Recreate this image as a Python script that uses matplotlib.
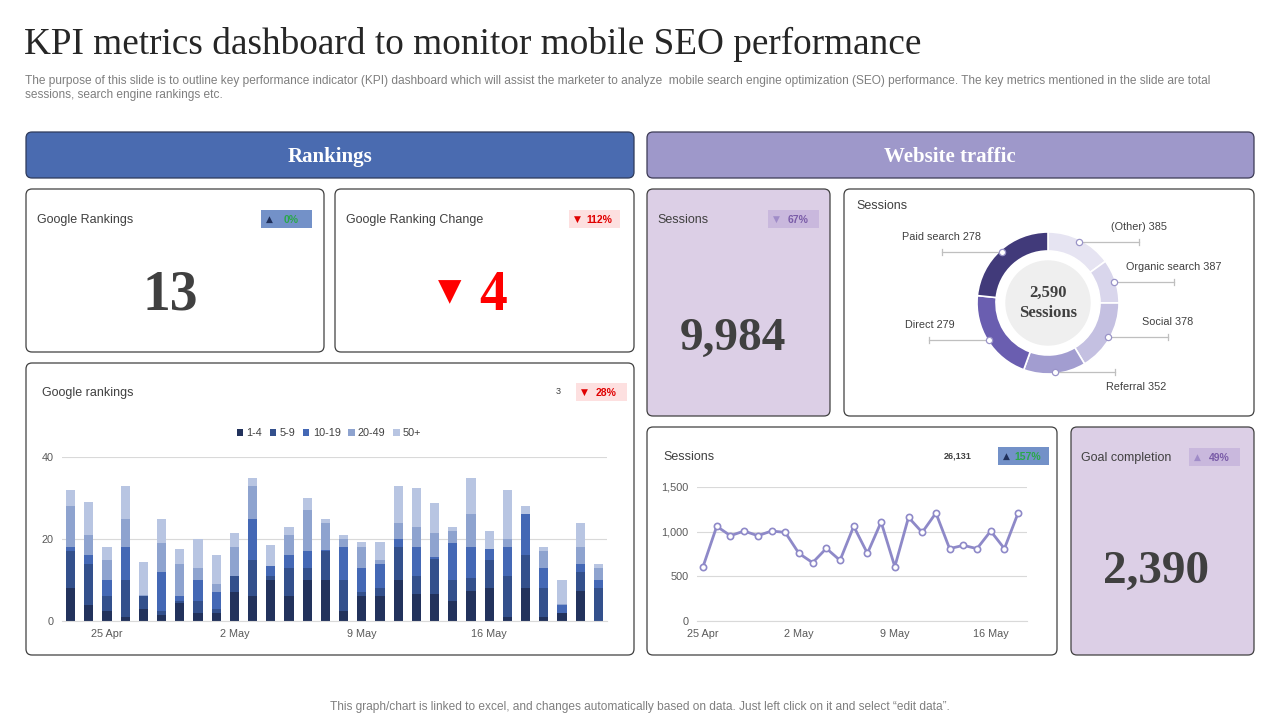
import numpy as np
import pandas as pd
import matplotlib
matplotlib.use("Agg")
import matplotlib.pyplot as plt
from matplotlib.patches import FancyBboxPatch, Rectangle, Circle

W, H = 1280, 720
SERIF = "Liberation Serif"
SANS = "Liberation Sans"
DARK = "#404040"
plt.rcParams["font.family"] = [SANS, "DejaVu Sans"]

# Google rankings per day, split by ranking bucket
rank_days = pd.date_range("2023-04-23", periods=30)
rank_buckets = ["1-4", "5-9", "10-19", "20-49", "50+"]
rank_1_4 = [8, 4, 2.5, 1, 3, 1.5, 4.5, 2, 2, 7, 6, 10, 6, 10, 10, 2.5, 6, 6, 10, 6.5,
            6.5, 5, 7.4, 8, 1, 8, 1, 2, 7.4, 0]
rank_5_9 = [9, 10, 3.5, 9, 3, 1, 0.5, 3, 1, 4, 9, 1, 7, 3, 7, 7.5, 1, 2, 8, 4.5,
            8.7, 5, 3.1, 7, 10, 8, 7, 0, 4.6, 8]
rank_10_19 = [1, 2, 4, 8, 0, 9.5, 1, 5, 4, 0, 10, 2.5, 3, 4, 0.2, 8, 6, 6, 2, 7,
              0.3, 9, 7.5, 2.5, 7, 10, 5, 2, 2, 2]
rank_20_49 = [10, 5, 5, 7, 0.3, 7, 8, 3, 2, 7, 8, 0, 5, 10, 6.8, 2, 5, 1, 4, 5,
              6, 3, 8, 0.1, 2, 0, 4, 0.2, 4, 3]
rank_50p = [4, 8, 3, 8, 8, 6, 3.5, 7, 7, 3.5, 2, 5, 2, 3, 1, 1, 1.3, 4.3, 9, 9.4,
            7.3, 1, 9, 4.4, 12, 2, 1, 5.8, 6, 1]
rank_colors = ["#22325c", "#33508c", "#4468b5", "#8ea3cf", "#b8c5e2"]

# daily sessions
session_days = pd.date_range("2023-04-25", periods=24)
sessions = [608, 1060, 955, 1007, 955, 1007, 992, 757, 653, 813, 679, 1060,
            757, 1108, 608, 1160, 992, 1209, 810, 847, 810, 1007, 810, 1209]

# sessions by source
traffic_sources = ["(Other)", "Organic search", "Social", "Referral", "Direct", "Paid search"]
traffic_sessions = [385, 387, 378, 352, 279, 278]
traffic_arc_share = [54, 36, 59, 51, 76, 84]   # slice sizes as drawn
traffic_colors = ["#e6e4f2", "#d9d6ec", "#c4c0e1", "#a29dd0", "#6a5eb0", "#413a7a"]

fig = plt.figure(figsize=(12.8, 7.2), dpi=100)
bg = fig.add_axes([0, 0, 1, 1])
bg.set_xlim(0, W)
bg.set_ylim(H, 0)
bg.axis("off")


def px_axes(x0, y0, x1, y1):
    return fig.add_axes([x0 / W, 1 - y1 / H, (x1 - x0) / W, (y1 - y0) / H])


def card(x0, y0, x1, y1, fc="white", ec=DARK, lw=0.9):
    bg.add_patch(FancyBboxPatch((x0, y0), x1 - x0, y1 - y0,
                                boxstyle="round,pad=0,rounding_size=6",
                                fc=fc, ec=ec, lw=lw))


def badge(x0, yc, arrow, arrow_c, txt, txt_c, fc, w=51):
    bg.add_patch(Rectangle((x0, yc - 9), w, 18, fc=fc, ec="none"))
    bg.text(x0 + 8, yc, arrow, color=arrow_c, fontsize=6.5, ha="center", va="center",
            family="DejaVu Sans")
    bg.text(x0 + 30, yc + 1, txt, color=txt_c, fontsize=7.5, fontweight="bold",
            ha="center", va="center", family=SANS)


def label(x0, y, txt, **kw):
    bg.text(x0, y + 1, txt, family=SANS, fontsize=9, color=DARK, va="center", **kw)


# title and subtitle
bg.text(24, 44, "KPI metrics dashboard to monitor mobile SEO performance",
        family=SERIF, fontsize=26.8, color="#262626", va="center")
bg.text(25, 81, "The purpose of this slide is to outline key performance indicator (KPI) dashboard "
        "which will assist the marketer to analyze  mobile search engine optimization (SEO) "
        "performance. The key metrics mentioned in the slide are total",
        family=SANS, fontsize=8.6, color="#7f7f7f", va="center")
bg.text(25, 95, "sessions, search engine rankings etc.",
        family=SANS, fontsize=8.6, color="#7f7f7f", va="center")
bg.text(640, 707, "This graph/chart is linked to excel, and changes automatically based on data. "
        "Just left click on it and select \u201cedit data\u201d.",
        family=SANS, fontsize=8.6, color="#7f7f7f", ha="center", va="center")

# section headers
card(26, 132, 634, 178, fc="#4a6bb0", ec="#2e3a5a")
bg.text(330, 157, "Rankings", family=SERIF, fontsize=15, fontweight="bold",
        color="white", ha="center", va="center")
card(647, 132, 1254, 178, fc="#9e98ca", ec="#3c3a55")
bg.text(950, 157, "Website traffic", family=SERIF, fontsize=15, fontweight="bold",
        color="white", ha="center", va="center")

# KPI cards - rankings
card(26, 189, 324, 352)
label(37, 219, "Google Rankings")
badge(261, 219, "\u25b2", "#1f2f5a", "0%", "#2aa84a", "#7391c8")
bg.text(170, 296, "13", family=SERIF, fontsize=40, fontweight="bold", color=DARK,
        ha="center", va="center")

card(335, 189, 634, 352)
label(346, 219, "Google Ranking Change")
badge(569, 219, "\u25bc", "#e00000", "112%", "#e00000", "#fde0e0")
bg.text(450, 292, "\u25bc", family="DejaVu Sans", fontsize=22, color="#ff0000",
        ha="center", va="center")
bg.text(493, 296, "4", family=SERIF, fontsize=40, fontweight="bold", color="#ff0000",
        ha="center", va="center")

# rankings chart card
card(26, 363, 634, 655)
label(42, 392, "Google rankings")
bg.text(558, 392, "3", family=SANS, fontsize=6.5, color=DARK, ha="center", va="center")
badge(576, 392, "\u25bc", "#e00000", "28%", "#e00000", "#fde0e0")

# website traffic cards
card(647, 189, 830, 416, fc="#dccfe6")
label(657, 219, "Sessions")
badge(768, 219, "\u25bc", "#a08cc8", "67%", "#7a5ca8", "#c9b8dd")
bg.text(733, 339, "9,984", family=SERIF, fontsize=34, fontweight="bold", color=DARK,
        ha="center", va="center")

card(844, 189, 1254, 416)
label(856, 205, "Sessions")

card(647, 427, 1057, 655)
label(663, 456, "Sessions")
bg.text(958, 456, "26,131", family=SANS, fontsize=6.5, fontweight="bold", color=DARK,
        ha="center", va="center")
badge(998, 456, "\u25b2", "#1f2f5a", "157%", "#2aa84a", "#7391c8")

card(1071, 427, 1254, 655, fc="#dccfe6")
label(1081, 457, "Goal completion")
badge(1189, 457, "\u25b2", "#a08cc8", "49%", "#7a5ca8", "#c9b8dd")
bg.text(1156, 572, "2,390", family=SERIF, fontsize=34, fontweight="bold", color=DARK,
        ha="center", va="center")

# stacked ranking bars
ax = px_axes(62, 457, 607, 621)
x = np.arange(len(rank_days))
bottom = np.zeros(len(x))
for vals, name, col in zip([rank_1_4, rank_5_9, rank_10_19, rank_20_49, rank_50p],
                           rank_buckets, rank_colors):
    ax.bar(x, vals, width=0.5, bottom=bottom, color=col, label=name)
    bottom += np.array(vals)
ax.set_xlim(-0.47, 29.47)
ax.set_ylim(0, 40)
ax.set_yticks([0, 20, 40])
tick_idx = [2, 9, 16, 23]
ax.set_xticks(tick_idx)
ax.set_xticklabels([f"{rank_days[i].day} {rank_days[i].strftime('%b')}" for i in tick_idx])
ax.grid(axis="y", color="#d9d9d9", lw=0.8)
ax.set_axisbelow(True)
for s in ["top", "right", "left"]:
    ax.spines[s].set_visible(False)
ax.spines["bottom"].set_color("#d9d9d9")
ax.tick_params(length=0, labelsize=7.8, labelcolor="#595959", pad=6)
ax.set_facecolor("none")
leg = ax.legend(loc="center", bbox_to_anchor=(0.49, 1.146), ncol=5, frameon=False,
                fontsize=7.8, handlelength=0.6, handleheight=0.6, handletextpad=0.3,
                columnspacing=0.7)
for t in leg.get_texts():
    t.set_color(DARK)

# sessions line
ax2 = px_axes(697, 487, 1027, 621)
xs = np.arange(len(session_days))
ax2.plot(xs, sessions, color="#8e89c8", lw=2, marker="o", ms=4.5,
         mfc="white", mec="#8e89c8", mew=1.2)
ax2.set_xlim(-0.44, 23.65)
ax2.set_ylim(0, 1500)
ax2.set_yticks([0, 500, 1000, 1500])
ax2.set_yticklabels([f"{v:,}" for v in [0, 500, 1000, 1500]])
tick2 = [0, 7, 14, 21]
ax2.set_xticks(tick2)
ax2.set_xticklabels([f"{session_days[i].day} {session_days[i].strftime('%b')}" for i in tick2])
ax2.grid(axis="y", color="#d9d9d9", lw=0.8)
ax2.set_axisbelow(True)
for s in ["top", "right", "left"]:
    ax2.spines[s].set_visible(False)
ax2.spines["bottom"].set_color("#d9d9d9")
ax2.tick_params(length=0, labelsize=7.8, labelcolor="#595959", pad=6)
ax2.set_facecolor("none")

# donut
cx, cy = 1048, 303
ax3 = px_axes(880, 195, 1240, 410)
R, ring = 71, 19
ax3.pie(traffic_arc_share, radius=R, startangle=90, counterclock=False,
        colors=traffic_colors, wedgeprops=dict(width=ring, edgecolor="white", lw=1.2))
ax3.add_patch(Circle((0, 0), 42, color="#efefef"))
ax3.text(0, 0, "2,590\nSessions", family=SERIF, fontsize=12, fontweight="bold",
         color=DARK, ha="center", va="center", linespacing=1.3)
ax3.set_xlim(880 - cx, 1240 - cx)
ax3.set_ylim(-(410 - cy), cy - 195)
ax3.set_aspect("auto")
ax3.axis("off")

shares = np.array(traffic_arc_share, dtype=float)
edges = np.concatenate([[0], np.cumsum(shares)]) / shares.sum() * 360
for i, (src, val) in enumerate(zip(traffic_sources, traffic_sessions)):
    mid = (edges[i] + edges[i + 1]) / 2
    a = np.deg2rad(90 - mid)
    dx, dy = (R - 2) * np.cos(a), (R - 2) * np.sin(a)
    side = 1 if dx >= 0 else -1
    ex = dx + side * 60
    ax3.plot([dx, ex], [dy, dy], color="#bfbfbf", lw=0.9, zorder=3)
    ax3.plot([ex, ex], [dy - 3, dy + 3], color="#bfbfbf", lw=0.9, zorder=3)
    ax3.plot(dx, dy, "o", ms=4.5, mfc="white", mec="#9a94c8", mew=0.9, zorder=4)
    if dy < -55:
        ax3.text(ex + 22, dy - 15, f"{src} {val}", family=SANS, fontsize=7.8,
                 color=DARK, ha="center", va="center")
    else:
        ax3.text(ex, dy + 15, f"{src} {val}", family=SANS, fontsize=7.8,
                 color=DARK, ha="center", va="center")

fig.savefig("out.png", dpi=100)
